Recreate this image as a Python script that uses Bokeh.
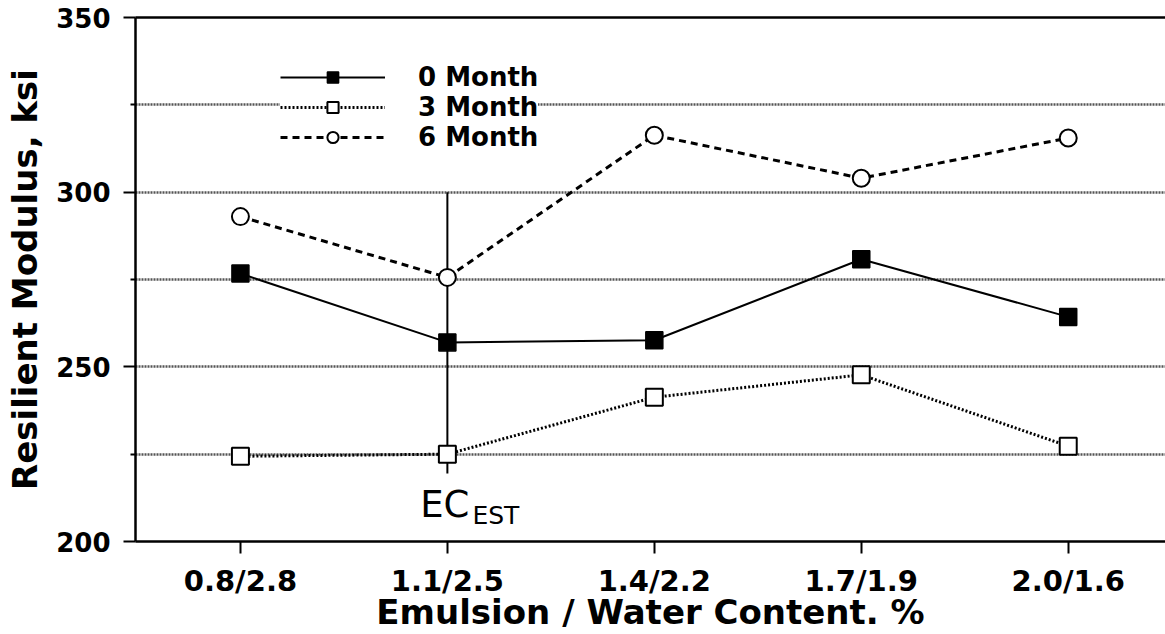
from bokeh.plotting import figure
from bokeh.models import (Range1d, FixedTicker, LinearAxis, Legend, LegendItem,
                          Label, ColumnDataSource)
from bokeh.embed import file_html
from bokeh.resources import INLINE

# ---- data ----
categories = ["0.8/2.8", "1.1/2.5", "1.4/2.2", "1.7/1.9", "2.0/1.6"]
month0 = [276.7, 257.0, 257.6, 280.8, 264.3]
month3 = [224.4, 225.0, 241.3, 247.7, 227.3]
month6 = [293.0, 275.6, 316.3, 304.0, 315.5]
series_names = ["0 Month", "3 Month", "6 Month"]
ec_category = "1.1/2.5"
ec_span = [300, 219.5]
y_ticks = [200, 250, 300, 350]
y_minor = [225, 275, 325]
grid_vals = [225, 250, 275, 300, 325]

xs = list(range(len(categories)))
ec_x = categories.index(ec_category)

FONT = "DejaVu Sans"

p = figure(width=1165, height=634,
           x_range=Range1d(-0.507, 4.47), y_range=Range1d(200, 350),
           output_backend="svg", toolbar_location=None,
           min_border_left=135, min_border_right=0, min_border_top=17,
           min_border_bottom=93)
p.outline_line_color = None
p.background_fill_color = "white"
p.border_fill_color = "white"

# grid
p.xgrid.visible = False
p.ygrid.ticker = FixedTicker(ticks=grid_vals)
p.ygrid.grid_line_color = "#555555"
p.ygrid.grid_line_width = 2.5
p.ygrid.grid_line_dash = "2 1"

# y axis
p.yaxis.ticker = FixedTicker(ticks=y_ticks, minor_ticks=y_minor)
p.yaxis.axis_line_width = 2.5
p.yaxis.major_tick_line_width = 2
p.yaxis.major_tick_out = 12
p.yaxis.major_tick_in = 0
p.yaxis.minor_tick_line_width = 2
p.yaxis.minor_tick_out = 5
p.yaxis.minor_tick_in = 0
p.yaxis.major_label_text_font = FONT
p.yaxis.major_label_text_font_style = "bold"
p.yaxis.major_label_text_font_size = "26px"
p.yaxis.major_label_text_color = "black"
p.yaxis.major_label_standoff = 13
p.yaxis.axis_label = "Resilient Modulus, ksi"
p.yaxis.axis_label_text_font = FONT
p.yaxis.axis_label_text_font_style = "bold"
p.yaxis.axis_label_text_font_size = "34px"
p.yaxis.axis_label_text_color = "black"
p.yaxis.axis_label_standoff = 8

# x axis
p.xaxis.ticker = FixedTicker(ticks=xs)
p.xaxis.major_label_overrides = {i: c for i, c in zip(xs, categories)}
p.xaxis.axis_line_width = 2.5
p.xaxis.major_tick_line_width = 2
p.xaxis.major_tick_out = 12
p.xaxis.major_tick_in = 0
p.xaxis.minor_tick_line_color = None
p.xaxis.major_label_text_font = FONT
p.xaxis.major_label_text_font_style = "bold"
p.xaxis.major_label_text_font_size = "29px"
p.xaxis.major_label_text_color = "black"
p.xaxis.major_label_standoff = 10
p.xaxis.axis_label = "Emulsion / Water Content. %"
p.xaxis.axis_label_text_font = FONT
p.xaxis.axis_label_text_font_style = "bold"
p.xaxis.axis_label_text_font_size = "34px"
p.xaxis.axis_label_text_color = "black"
p.xaxis.axis_label_standoff = -9

# top border as an axis line
top = LinearAxis(ticker=FixedTicker(ticks=[]), major_label_text_font_size="0px",
                 axis_line_width=2.5, major_tick_line_color=None,
                 minor_tick_line_color=None, major_label_standoff=0,
                 major_tick_out=0, major_tick_in=0)
p.add_layout(top, "above")

# EC_EST vertical line
p.segment(x0=[ec_x], y0=[ec_span[0]], x1=[ec_x], y1=[ec_span[1]],
          line_color="black", line_width=2)
p.add_layout(Label(x=ec_x, y=210.5, x_offset=22, text="EC", text_align="right",
                   text_baseline="alphabetic",
                   text_font=FONT, text_font_size="37px", text_color="black"))
p.add_layout(Label(x=ec_x, y=207.5, x_offset=25, text="EST", text_align="left",
                   text_baseline="alphabetic",
                   text_font=FONT, text_font_size="25px", text_color="black"))

src = ColumnDataSource(dict(x=xs, m0=month0, m3=month3, m6=month6))

l0 = p.line("x", "m0", source=src, line_color="black", line_width=2)
s0 = p.scatter("x", "m0", source=src, marker="square", size=17,
               fill_color="black", line_color="black", line_width=1.5)
l3 = p.line("x", "m3", source=src, line_color="black", line_width=3,
            line_dash="2 2")
s3 = p.scatter("x", "m3", source=src, marker="square", size=17,
               fill_color="white", line_color="black", line_width=2)
l6 = p.line("x", "m6", source=src, line_color="black", line_width=3,
            line_dash="7 5")
s6 = p.scatter("x", "m6", source=src, marker="circle", size=17,
               fill_color="white", line_color="black", line_width=2)

legend = Legend(items=[LegendItem(label=series_names[0], renderers=[l0, s0]),
                       LegendItem(label=series_names[1], renderers=[l3, s3]),
                       LegendItem(label=series_names[2], renderers=[l6, s6])],
                location=(145, 389), padding=10, spacing=0, margin=0,
                glyph_width=105, glyph_height=28, label_height=28,
                label_standoff=33, border_line_color=None,
                background_fill_color="white", background_fill_alpha=1.0,
                label_text_font=FONT, label_text_font_style="bold",
                label_text_font_size="26px", label_text_color="black",
                label_text_line_height=0.9)
p.add_layout(legend)

open("out.html", "w").write(file_html(p, INLINE))
